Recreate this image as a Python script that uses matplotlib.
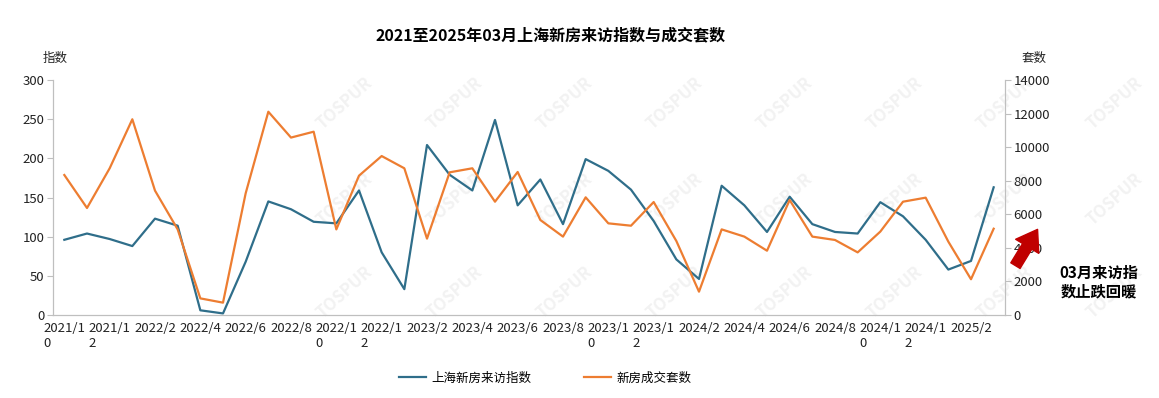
import matplotlib
matplotlib.use("Agg")
import matplotlib.pyplot as plt
from matplotlib.patches import FancyArrowPatch

plt.rcParams['font.family'] = ['Noto Sans CJK SC', 'DejaVu Sans']

# months 2021/10 .. 2025/03
months = []
for yr in range(2021, 2026):
    for mo in range(1, 13):
        if (yr, mo) < (2021, 10) or (yr, mo) > (2025, 3):
            continue
        months.append(f"{yr}/{mo}")

visit_index = [96, 104, 97, 88, 123, 114, 6, 2, 68, 145, 135, 119, 117, 159, 80,
               33, 217, 179, 159, 249, 140, 173, 116, 199, 184, 160, 120, 71, 46,
               165, 140, 106, 151, 116, 106, 104, 144, 126, 96, 58, 69, 163]
deals = [8340, 6375, 8740, 11660, 7410, 5100, 990, 735, 7250, 12110, 10570, 10920,
         5100, 8300, 9470, 8740, 4550, 8500, 8740, 6750, 8520, 5660, 4670, 7010,
         5460, 5320, 6730, 4410, 1390, 5100, 4670, 3830, 6850, 4670, 4470, 3730,
         4970, 6750, 6990, 4370, 2130, 5140]

blue = "#2F6E8A"
orange = "#ED7D31"
grey = "#BFBFBF"
txt = "#222222"

fig = plt.figure(figsize=(11.59, 3.98), dpi=100)

# faint watermark tiles (drawn behind everything)
for wy in [0.74, 0.50, 0.265]:
    for wx in range(345, 1130, 110):
        fig.text(wx / 1159, wy, "TOSPUR", rotation=42, color="#F2F2F2",
                 fontsize=12, fontweight="bold", ha="center", va="center", zorder=-5)

ax = fig.add_axes([53 / 1159, 1 - 315 / 398, 952 / 1159, 235 / 398])
ax.patch.set_alpha(0)
ax.set_zorder(2)
ax2 = ax.twinx()
ax2.set_zorder(3)
ax2.patch.set_alpha(0)

x = list(range(len(months)))
l1, = ax.plot(x, visit_index, color=blue, lw=1.6, label="上海新房来访指数")
l2, = ax2.plot(x, deals, color=orange, lw=1.6, label="新房成交套数")

ax.set_xlim(-0.5, len(months) - 0.5)
ax.set_ylim(0, 300)
ax.set_yticks(range(0, 301, 50))
ax2.set_ylim(0, 14000)
ax2.set_yticks(range(0, 14001, 2000))

ticks = x[::2]
labels = [m if len(m) <= 6 else m[:6] + "\n" + m[6:] for m in months[::2]]
ax.set_xticks(ticks)
ax.set_xticklabels(labels, multialignment="left")

for a in (ax, ax2):
    a.spines["top"].set_visible(False)
    for s in ("left", "right", "bottom"):
        a.spines[s].set_color(grey)
ax.tick_params(axis="x", length=0, pad=5, labelsize=9.5, colors=txt)
ax.tick_params(axis="y", length=4, color=grey, pad=2, labelsize=9.5, colors=txt)
ax2.tick_params(axis="y", length=4, color=grey, pad=2, labelsize=9.5, colors=txt)
for t in ax.get_yticklabels() + ax2.get_yticklabels():
    t.set_color(txt)

fig.text(551 / 1159, 1 - 35 / 398, "2021至2025年03月上海新房来访指数与成交套数",
         ha="center", va="center", fontsize=11.5, fontweight="bold", color="black")
fig.text(55 / 1159, 1 - 58 / 398, "指数", ha="center", va="center", fontsize=9, color=txt)
fig.text(1034 / 1159, 1 - 58 / 398, "套数", ha="center", va="center", fontsize=9, color=txt)

fig.legend(handles=[l1, l2], loc="center", bbox_to_anchor=(545 / 1159, 1 - 378 / 398),
           ncol=2, frameon=False, fontsize=9, handlelength=2.2, handletextpad=0.4,
           columnspacing=4.2)

# callout
arrow = FancyArrowPatch((1014 / 1159, 1 - 268 / 398), (1039 / 1159, 1 - 227 / 398),
                        transform=fig.transFigure, color="#C00000",
                        arrowstyle="simple,head_length=1.1,head_width=1.5,tail_width=0.6",
                        mutation_scale=13, zorder=5)
fig.patches.append(arrow)
fig.text(1099 / 1159, 1 - 282 / 398, "03月来访指\n数止跌回暖", ha="center", va="center",
         fontsize=11, fontweight="bold", color="black", linespacing=1.15)

fig.savefig("out.png", dpi=100)
